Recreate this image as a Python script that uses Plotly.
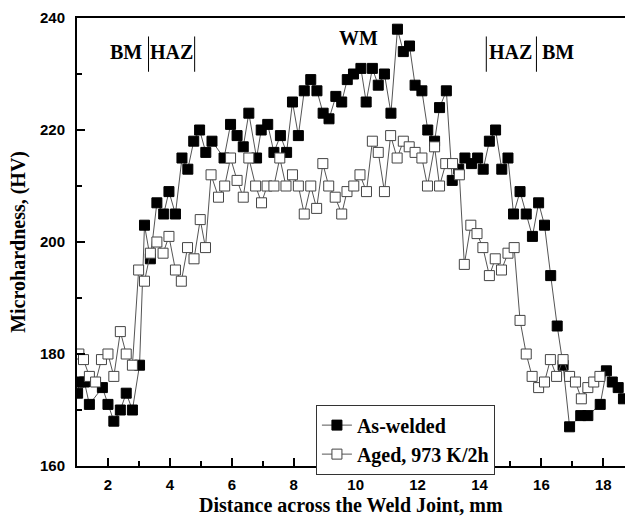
import plotly.graph_objects as go

# Microhardness profile across the weld joint (distance in mm, hardness in HV)
as_welded_x = [1.02, 1.08, 1.24, 1.40, 1.82, 2.00, 2.19, 2.40, 2.59, 2.79,
               3.02, 3.18, 3.37, 3.58, 3.80, 3.97, 4.18, 4.39, 4.58, 4.77,
               4.96, 5.16, 5.36, 5.75, 5.96, 6.17, 6.37, 6.55, 6.80, 6.95,
               7.16, 7.36, 7.57, 7.77, 7.96, 8.15, 8.34, 8.55, 8.75, 8.95,
               9.14, 9.36, 9.55, 9.73, 9.93, 10.17, 10.34, 10.54, 10.73, 10.93,
               11.14, 11.35, 11.54, 11.74, 11.92, 12.14, 12.33, 12.55, 12.71, 12.93,
               13.12, 13.33, 13.53, 13.74, 13.94, 14.12, 14.32, 14.52, 14.72, 14.92,
               15.10, 15.31, 15.51, 15.71, 15.91, 16.10, 16.30, 16.51, 16.70, 16.91,
               17.27, 17.50, 17.90, 18.10, 18.29, 18.48, 18.65]
as_welded_hv = [173, 175, 175, 171, 174, 171, 168, 170, 173, 170,
                178, 203, 197, 207, 205, 209, 205, 215, 213, 218,
                220, 216, 218, 215, 221, 219, 217, 223, 215, 220,
                221, 216, 219, 216, 225, 219, 227, 229, 227, 223,
                222, 226, 225, 229, 230, 231, 225, 231, 228, 230,
                223, 238, 234, 235, 228, 227, 220, 218, 224, 227,
                211, 213, 215, 214, 215, 213, 218, 220, 213, 215,
                205, 209, 205, 201, 207, 203, 194, 185, 178, 167,
                169, 169, 171, 177, 175, 174, 172]

aged_x = [1.06, 1.21, 1.40, 1.60, 1.79, 2.00, 2.19, 2.40, 2.59, 2.79,
          2.99, 3.18, 3.37, 3.58, 3.78, 3.97, 4.18, 4.37, 4.57, 4.78,
          4.98, 5.15, 5.33, 5.57, 5.77, 5.96, 6.17, 6.37, 6.55, 6.77,
          6.96, 7.14, 7.36, 7.55, 7.75, 7.96, 8.15, 8.34, 8.55, 8.74,
          8.94, 9.13, 9.34, 9.55, 9.72, 9.94, 10.14, 10.35, 10.54, 10.73,
          10.93, 11.13, 11.34, 11.54, 11.73, 11.92, 12.14, 12.32, 12.55, 12.71,
          12.91, 13.13, 13.35, 13.51, 13.72, 13.92, 14.11, 14.32, 14.51, 14.71,
          14.92, 15.12, 15.31, 15.51, 15.70, 15.91, 16.10, 16.29, 16.49, 16.70,
          16.91, 17.10, 17.29, 17.50, 17.69, 17.89]
aged_hv = [180, 179, 176, 175, 179, 180, 176, 184, 180, 178,
           195, 193, 198, 200, 198, 201, 195, 193, 199, 197,
           204, 199, 212, 208, 210, 215, 211, 208, 215, 210,
           207, 210, 210, 215, 210, 212, 210, 205, 210, 206,
           214, 210, 208, 205, 209, 210, 212, 209, 218, 216,
           209, 219, 215, 218, 217, 216, 215, 210, 217, 210,
           214, 214, 212, 196, 203, 201.5, 199, 194, 197, 195,
           198, 199, 186, 180, 176, 174, 175, 179, 176, 179,
           176, 175, 172, 174, 175, 176]

x_ticks = [2, 4, 6, 8, 10, 12, 14, 16, 18]
y_ticks = [160, 180, 200, 220, 240]

# Zone labels and zone-boundary markers
zone_labels = ["BM", "HAZ", "WM", "HAZ", "BM"]
zone_label_x = [2.57, 4.06, 10.08, 15.0, 16.52]
zone_label_y = [233.9, 233.9, 236.4, 233.9, 233.9]
zone_bounds_x = [3.31, 4.80, 14.22, 15.84]
zone_bound_y = (230.4, 236.7)

serif = "Liberation Serif"
sans = "Liberation Sans"

fig = go.Figure()
fig.add_trace(go.Scatter(
    x=as_welded_x, y=as_welded_hv, mode="lines+markers", name="As-welded",
    line=dict(color="#555555", width=1),
    marker=dict(symbol="square", size=10, color="black",
                line=dict(color="black", width=1)),
))
fig.add_trace(go.Scatter(
    x=aged_x, y=aged_hv, mode="lines+markers", name="Aged, 973 K/2h",
    line=dict(color="#555555", width=1),
    marker=dict(symbol="square", size=10, color="white",
                line=dict(color="#444444", width=1)),
))

for lab, lx, ly in zip(zone_labels, zone_label_x, zone_label_y):
    fig.add_annotation(x=lx, y=ly, text=lab, showarrow=False,
                       font=dict(family=serif, size=20, color="black", weight="bold"))
for bx in zone_bounds_x:
    fig.add_shape(type="line", x0=bx, x1=bx, y0=zone_bound_y[0], y1=zone_bound_y[1],
                  line=dict(color="black", width=1))

fig.add_annotation(xref="paper", yref="paper", x=0.5, y=-0.087, yanchor="middle",
                   text="Distance across the Weld Joint, mm", showarrow=False,
                   font=dict(family=serif, size=20, color="black", weight="bold"))
fig.add_annotation(xref="paper", yref="paper", x=-0.108, y=0.5, xanchor="center",
                   textangle=-90,
                   text="Microhardness, (HV)", showarrow=False,
                   font=dict(family=serif, size=20, color="black", weight="bold"))

fig.update_layout(
    width=625, height=520,
    margin=dict(l=77, r=0, t=18, b=54),
    plot_bgcolor="white", paper_bgcolor="white",
    showlegend=True,
    legend=dict(x=0.436, y=0.137, xanchor="left", yanchor="top",
                bgcolor="white", bordercolor="#333333", borderwidth=1,
                font=dict(family=serif, size=20, color="black", weight="bold"),
                tracegroupgap=0, itemwidth=30),
)
fig.update_xaxes(
    range=[1, 18.7], tickvals=x_ticks, ticks="inside", ticklen=8, tickwidth=1.5,
    minor=dict(dtick=1, ticks="inside", ticklen=5, tickwidth=1.5, tickcolor="black"),
    showline=True, linecolor="black", linewidth=2, mirror=True,
    showgrid=False, zeroline=False, tickcolor="black", ticklabelstandoff=4,
    tickfont=dict(family=sans, size=15, color="black", weight="bold"),
)
fig.update_yaxes(
    range=[160, 240], tickvals=y_ticks, ticks="inside", ticklen=8, tickwidth=1.5,
    minor=dict(dtick=10, ticks="inside", ticklen=5, tickwidth=1.5, tickcolor="black"),
    showline=True, linecolor="black", linewidth=2, mirror=False,
    showgrid=False, zeroline=False, tickcolor="black", ticklabelstandoff=7,
    tickfont=dict(family=sans, size=15, color="black", weight="bold"),
)

fig.write_html("out.html")
